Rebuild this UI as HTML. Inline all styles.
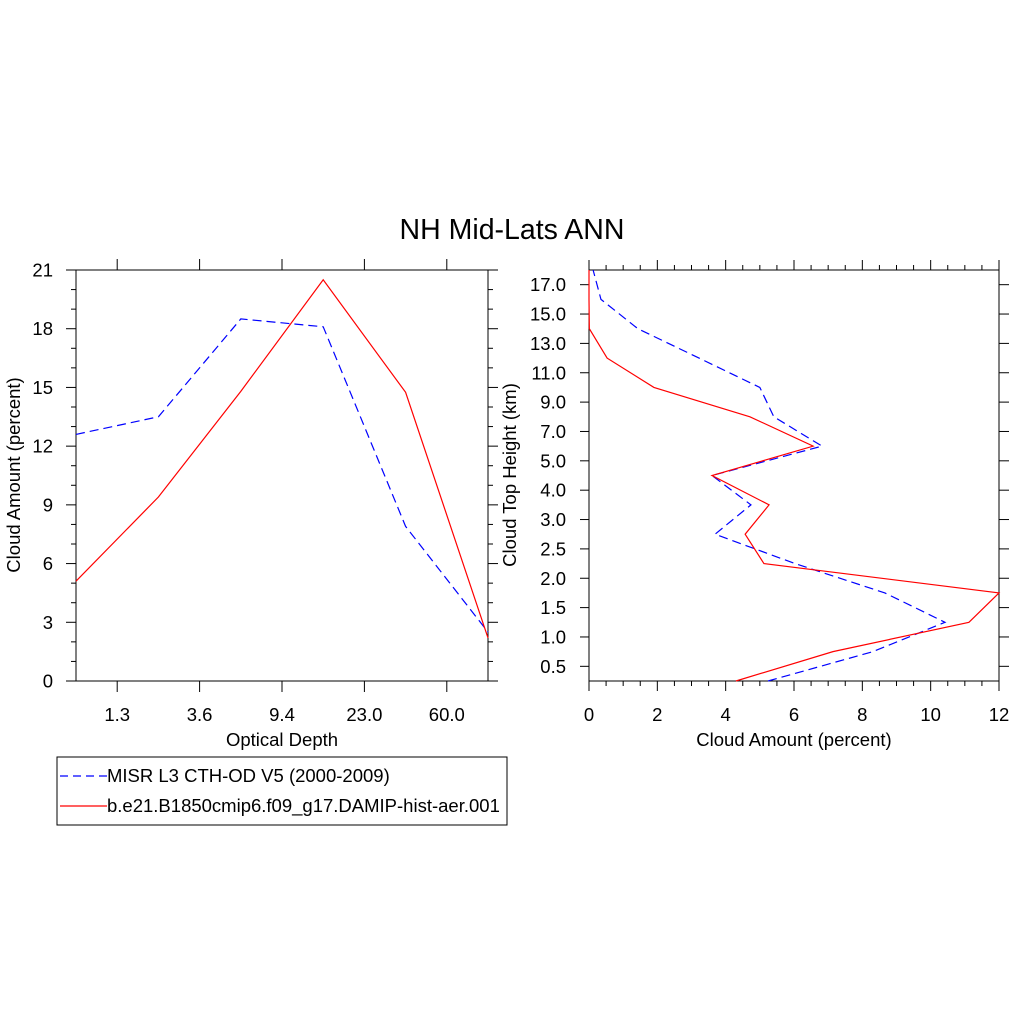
<!DOCTYPE html>
<html><head><meta charset="utf-8"><style>
html,body{margin:0;padding:0;background:#fff;}
svg{display:block;font-family:"Liberation Sans",Arial,sans-serif;}
</style></head><body>
<svg id="chart" width="1024" height="1024" viewBox="0 0 1024 1024" xmlns="http://www.w3.org/2000/svg">
<rect width="1024" height="1024" fill="#fff"/>
<text x="512" y="239" font-size="28.5" text-anchor="middle">NH Mid-Lats ANN</text>
<g id="left"></g>
<g id="right"></g>
<text x="282" y="746" font-size="18.5" text-anchor="middle">Optical Depth</text>
<text transform="translate(20,475) rotate(-90)" font-size="18.5" text-anchor="middle">Cloud Amount (percent)</text>
<text x="794" y="746" font-size="18.5" text-anchor="middle">Cloud Amount (percent)</text>
<text transform="translate(516,475) rotate(-90)" font-size="18.5" text-anchor="middle">Cloud Top Height (km)</text>
<g>
<rect x="57" y="757" width="450" height="68" fill="#fff" stroke="#000" stroke-width="1"/>
<line x1="60" y1="776" x2="107" y2="776" stroke="#00f" stroke-width="1.2" stroke-dasharray="8,5"/>
<text x="107" y="782" font-size="18.5">MISR L3 CTH-OD V5 (2000-2009)</text>
<line x1="60" y1="806" x2="107" y2="806" stroke="#f00" stroke-width="1.2"/>
<text x="107" y="812" font-size="18.5">b.e21.B1850cmip6.f09_g17.DAMIP-hist-aer.001</text>
</g>
</svg>
<script>
// Left panel data
const odLabels = ["1.3","3.6","9.4","23.0","60.0"];
const odObs = [12.6, 13.5, 18.5, 18.1, 7.9, 2.5];
const odModel = [5.1, 9.4, 14.8, 20.5, 14.75, 2.2];
const leftYTicks = [0,3,6,9,12,15,18,21];
// Right panel data (bottom to top)
const cthLabels = ["0.5","1.0","1.5","2.0","2.5","3.0","4.0","5.0","7.0","9.0","11.0","13.0","15.0","17.0"];
const cthObs = [5.24, 8.31, 10.42, 8.66, 6.03, 3.69, 4.74, 3.60, 6.82, 5.41, 5.00, 3.22, 1.43, 0.35, 0.12];
const cthModel = [4.3, 7.14, 11.12, 12.0, 5.12, 4.57, 5.27, 3.60, 6.56, 4.71, 1.90, 0.53, 0.01, 0, 0];
const rightXTicks = [0,2,4,6,8,10,12];

const NS="http://www.w3.org/2000/svg";
function mk(parent,tag,attrs){const e=document.createElementNS(NS,tag);for(const k in attrs)e.setAttribute(k,attrs[k]);parent.appendChild(e);return e;}
function ln(g,x1,y1,x2,y2){const l=mk(g,'line',{x1,y1,x2,y2,stroke:'#000','stroke-width':1});return l;}

// Left
const L=document.getElementById('left');
const lx0=76,lx1=488,ly0=681,ly1=270;
const lxs=i=>lx0+(lx1-lx0)*i/(odObs.length-1);
const lys=v=>ly0-(ly0-ly1)*v/21;
const lf=mk(L,'rect',{x:lx0,y:ly1,width:lx1-lx0,height:ly0-ly1,fill:'none',stroke:'#000','stroke-width':1});


for(let v=0;v<=21;v++){const maj=v%3===0;const len=maj?10:5;ln(L,lx0-len,lys(v),lx0,lys(v));ln(L,lx1,lys(v),lx1+len,lys(v));}
leftYTicks.forEach(v=>{const t=mk(L,'text',{x:53,y:lys(v)+6.5,'font-size':18.5,'text-anchor':'end'});t.textContent=v;

});
odLabels.forEach((s,i)=>{const x=lxs(i+0.5);ln(L,x,ly1-11,x,ly1);ln(L,x,ly0,x,ly0+11);
const t=mk(L,'text',{x:x,y:721,'font-size':18.5,'text-anchor':'middle'});t.textContent=s;

});
function poly(g,pts,color,dash,name){const p=mk(g,'polyline',{points:pts.map(p=>p.join(',')).join(' '),fill:'none',stroke:color,'stroke-width':1.2});if(dash)p.setAttribute('stroke-dasharray',dash);

}
poly(L,odObs.map((v,i)=>[lxs(i),lys(v)]),'#00f','9,5','left-misr-line');
poly(L,odModel.map((v,i)=>[lxs(i),lys(v)]),'#f00',null,'left-model-line');

// Right
const R=document.getElementById('right');
const rx0=589,rx1=999,ry0=681,ry1=270;
const rxs=v=>rx0+(rx1-rx0)*v/12;
const rys=k=>ry0-(ry0-ry1)*(k+0.5)/14; // label index k
const rpy=i=>ry0-(ry0-ry1)*i/14;       // data point index i
const rf=mk(R,'rect',{x:rx0,y:ry1,width:rx1-rx0,height:ry0-ry1,fill:'none',stroke:'#000','stroke-width':1});


for(let v=0;v<=12;v+=0.5){const maj=v%2===0;const len=maj?10:5;ln(R,rxs(v),ry0,rxs(v),ry0+len);ln(R,rxs(v),ry1-len,rxs(v),ry1);}
rightXTicks.forEach(v=>{const t=mk(R,'text',{x:rxs(v),y:721,'font-size':18.5,'text-anchor':'middle'});t.textContent=v;

});
cthLabels.forEach((s,k)=>{const y=rys(k);ln(R,rx0-9,y,rx0,y);ln(R,rx1,y,rx1+10,y);
const t=mk(R,'text',{x:566,y:y+6.5,'font-size':18.5,'text-anchor':'end'});t.textContent=s;

});
poly(R,cthObs.map((v,i)=>[rxs(v),rpy(i)]),'#00f','9,5','right-misr-line');
poly(R,cthModel.map((v,i)=>[rxs(v),rpy(i)]),'#f00',null,'right-model-line');
</script>
</body></html>
